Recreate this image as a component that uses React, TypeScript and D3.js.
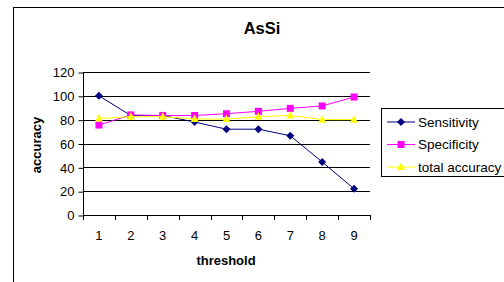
import React, { useRef, useEffect } from 'react';
import * as d3 from 'd3';

const thresholds = ['1', '2', '3', '4', '5', '6', '7', '8', '9'];
const sensitivity = [100, 83.5, 83.5, 78, 72, 72, 66.5, 44.5, 22];
const specificity = [75.5, 84, 83.5, 83.5, 85, 87, 89.5, 91.5, 99];
const totalAccuracy = [81, 82.5, 82.5, 80.5, 80.5, 82.5, 83.5, 80, 80];
const yTicks = [0, 20, 40, 60, 80, 100, 120];

const series = [
  { name: 'Sensitivity', values: sensitivity, color: '#000080', marker: 'diamond' },
  { name: 'Specificity', values: specificity, color: '#ff00ff', marker: 'square' },
  { name: 'total accuracy', values: totalAccuracy, color: '#ffff00', marker: 'triangle' },
];

const width = 504;
const height = 282;
const font = 'Liberation Sans, Arial, sans-serif';

const App: React.FC = () => {
  const svgRef = useRef<SVGSVGElement>(null);

  useEffect(() => {
    if (!svgRef.current) return;
    const svg = d3.select(svgRef.current);
    svg.selectAll('*').remove();

    const left = 83, right = 370, top = 72, bottom = 215;

    // outer chart border
    svg.append('rect')
      .attr('x', 13.5).attr('y', 7.5)
      .attr('width', 520).attr('height', 300)
      .attr('fill', 'white').attr('stroke', 'black');

    const x = d3.scaleBand().domain(thresholds).range([left, right]);
    const y = d3.scaleLinear().domain([0, 120]).range([bottom, top]);

    // gridlines
    svg.append('g').selectAll('line')
      .data(yTicks.filter(d => d > 0))
      .enter().append('line')
      .attr('x1', left).attr('x2', right)
      .attr('y1', d => Math.round(y(d)) + 0.5).attr('y2', d => Math.round(y(d)) + 0.5)
      .attr('stroke', 'black');

    // y axis
    const yAxis = svg.append('g')
      .attr('transform', `translate(${left + 0.5},0.5)`)
      .call(d3.axisLeft(y).tickValues(yTicks).tickSize(5).tickPadding(4));
    yAxis.select('.domain').attr('stroke', 'black').attr('d', `M0,${top}V${bottom}`);
    yAxis.selectAll('text').attr('font-family', font).attr('font-size', 13).attr('fill', 'black');

    // x axis
    svg.append('line')
      .attr('x1', left).attr('x2', right)
      .attr('y1', bottom + 0.5).attr('y2', bottom + 0.5)
      .attr('stroke', 'black');
    const bounds = d3.range(thresholds.length + 1).map(i => left + i * x.bandwidth());
    svg.append('g').selectAll('line')
      .data(bounds)
      .enter().append('line')
      .attr('x1', d => Math.round(d) + 0.5).attr('x2', d => Math.round(d) + 0.5)
      .attr('y1', bottom).attr('y2', bottom + 5)
      .attr('stroke', 'black');
    svg.append('g').selectAll('text')
      .data(thresholds)
      .enter().append('text')
      .attr('x', d => (x(d) as number) + x.bandwidth() / 2)
      .attr('y', 240)
      .attr('text-anchor', 'middle')
      .attr('font-family', font).attr('font-size', 13)
      .text(d => d);

    const cx = (i: number) => (x(thresholds[i]) as number) + x.bandwidth() / 2;

    const drawMarker = (g: any, kind: string, px: number, py: number, color: string) => {
      if (kind === 'diamond') {
        g.append('path')
          .attr('d', `M${px},${py - 4}L${px + 4},${py}L${px},${py + 4}L${px - 4},${py}Z`)
          .attr('fill', color);
      } else if (kind === 'square') {
        g.append('rect')
          .attr('x', px - 3.5).attr('y', py - 3.5)
          .attr('width', 7).attr('height', 7)
          .attr('fill', color);
      } else {
        g.append('path')
          .attr('d', `M${px},${py - 4.5}L${px + 4},${py + 3}L${px - 4},${py + 3}Z`)
          .attr('fill', color);
      }
    };

    const line = d3.line<number>().x((_, i) => cx(i)).y(d => y(d));

    series.forEach(s => {
      svg.append('path')
        .datum(s.values)
        .attr('d', line)
        .attr('fill', 'none')
        .attr('stroke', s.color)
        .attr('stroke-width', 1);
      const g = svg.append('g');
      s.values.forEach((v, i) => drawMarker(g, s.marker, cx(i), y(v), s.color));
    });

    // title
    svg.append('text')
      .attr('x', 262).attr('y', 34)
      .attr('text-anchor', 'middle')
      .attr('font-family', font).attr('font-size', 16.5).attr('font-weight', 'bold')
      .text('AsSi');

    // axis titles
    svg.append('text')
      .attr('transform', `translate(41,145) rotate(-90)`)
      .attr('text-anchor', 'middle')
      .attr('font-family', font).attr('font-size', 13).attr('font-weight', 'bold')
      .text('accuracy');
    svg.append('text')
      .attr('x', 226).attr('y', 265)
      .attr('text-anchor', 'middle')
      .attr('font-family', font).attr('font-size', 13).attr('font-weight', 'bold')
      .text('threshold');

    // legend
    const legend = svg.append('g');
    legend.append('rect')
      .attr('x', 381.5).attr('y', 108.5)
      .attr('width', 130).attr('height', 68)
      .attr('fill', 'white').attr('stroke', 'black');
    series.forEach((s, i) => {
      const ly = 122 + i * 22.5;
      legend.append('line')
        .attr('x1', 387).attr('x2', 415)
        .attr('y1', ly).attr('y2', ly)
        .attr('stroke', s.color);
      drawMarker(legend, s.marker, 401, ly, s.color);
      legend.append('text')
        .attr('x', 418).attr('y', ly + 4.5)
        .attr('font-family', font).attr('font-size', 13.5)
        .text(s.name);
    });
  }, []);

  return <svg ref={svgRef} width={width} height={height} style={{ position: 'absolute', left: 0, top: 0 }} />;
};

export default App;
